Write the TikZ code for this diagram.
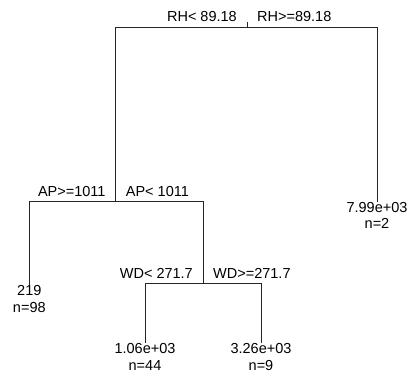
\documentclass[tikz,border=0pt]{standalone}
\usepackage{fontspec}
\setmainfont{Liberation Sans}
\begin{document}
\begin{tikzpicture}[x=1pt,y=-1pt,
  edge/.style={draw=black!85,line width=0.9pt},
  lbl/.style={inner sep=0pt,font=\fontsize{14.5}{17}\selectfont},
  lblL/.style={lbl,anchor=base east},
  lblR/.style={lbl,anchor=base west},
  leafv/.style={lbl,anchor=base}]
\useasboundingbox (0,0) rectangle (413,376);
% split and leaf points
\coordinate (root) at (247,27.7);
\coordinate (ap) at (115.7,201.7);
\coordinate (wd) at (203,283.3);
\coordinate (l219) at (29.3,285);
\coordinate (l799) at (377,202);
\coordinate (l106) at (145,343);
\coordinate (l326) at (261,343);
% connectors
\draw[edge] (ap) |- (root) -| (l799);
\draw[edge] (root) -- ++(0,-5.5);
\draw[edge] (l219) |- (ap) -| (wd);
\draw[edge] (l106) |- (wd) -| (l326);
% split labels
\node[lblL] (rhl) at (237,21.5) {RH< 89.18};
\node[lblR] (rhr) at (257,21.5) {RH>=89.18};
\node[lblL] (apl) at (105.7,196) {AP>=1011};
\node[lblR] (apr) at (125.7,196) {AP< 1011};
\node[lblL] (wdl) at (193,278) {WD< 271.7};
\node[lblR] (wdr) at (213,278) {WD>=271.7};
% leaf labels
\node[leafv] (v219) at ([yshift=-10.5pt]l219) {219};
\node[leafv] (n219) at ([yshift=-27pt]l219) {n=98};
\node[leafv] (v799) at ([yshift=-10pt]l799) {7.99e+03};
\node[leafv] (n799) at ([yshift=-26.5pt]l799) {n=2};
\node[leafv] (v106) at ([yshift=-10.3pt]l106) {1.06e+03};
\node[leafv] (n106) at ([yshift=-27pt]l106) {n=44};
\node[leafv] (v326) at ([yshift=-10.3pt]l326) {3.26e+03};
\node[leafv] (n326) at ([yshift=-27pt]l326) {n=9};
\end{tikzpicture}
\end{document}
